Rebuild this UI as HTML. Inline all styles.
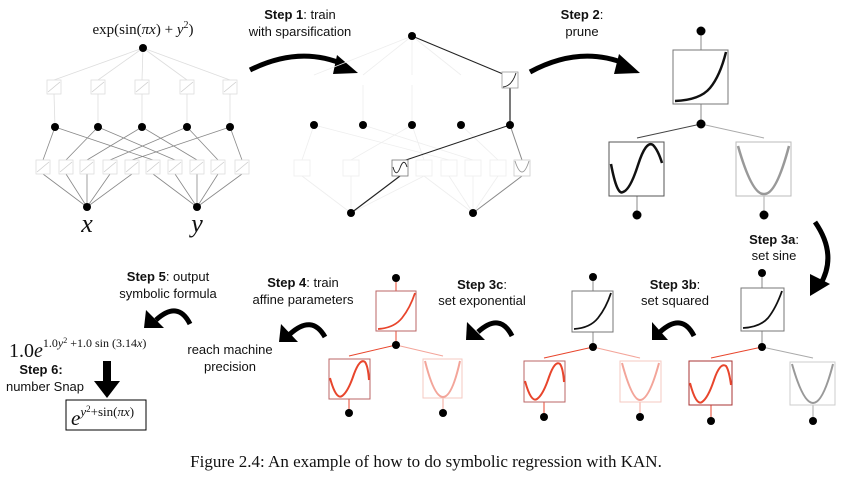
<!DOCTYPE html>
<html><head><meta charset="utf-8"><style>
body{margin:0;background:#fff;}
svg{display:block;}
.t{font-family:"Liberation Sans",sans-serif;font-size:13px;fill:#111;text-anchor:middle;}
.b{font-weight:bold;}
.s{font-family:"Liberation Serif",serif;fill:#111;}
</style></head><body>
<svg width="853" height="493" viewBox="0 0 853 493" xmlns="http://www.w3.org/2000/svg">
<defs>
<g id="ramp"><rect x="-7" y="-7" width="14" height="14" fill="#fff" stroke="#ddd" stroke-width="0.8"/><path d="M-6 5 L6 -5" stroke="#ccc" stroke-width="0.8"/></g>
</defs>

<!-- PANEL 1 -->
<text class="s" x="143" y="34" font-size="15" text-anchor="middle">exp(sin(<tspan font-style="italic">πx</tspan>) + <tspan font-style="italic">y</tspan><tspan font-size="10" dy="-6">2</tspan><tspan dy="6">)</tspan></text>
<g stroke="#ddd" stroke-width="0.8">
<line x1="143" y1="48" x2="54" y2="80"/><line x1="143" y1="48" x2="98" y2="80"/><line x1="143" y1="48" x2="142" y2="80"/><line x1="143" y1="48" x2="187" y2="80"/><line x1="143" y1="48" x2="230" y2="80"/>
<line x1="54" y1="94" x2="55" y2="127"/><line x1="98" y1="94" x2="98" y2="127"/><line x1="142" y1="94" x2="142" y2="127"/><line x1="187" y1="94" x2="187" y2="127"/><line x1="230" y1="94" x2="230" y2="127"/>
</g>
<g stroke="#888" stroke-width="0.8">
<line x1="55" y1="127" x2="43" y2="160"/><line x1="55" y1="127" x2="153" y2="160"/>
<line x1="98" y1="127" x2="66" y2="160"/><line x1="98" y1="127" x2="175" y2="160"/>
<line x1="142" y1="127" x2="87" y2="160"/><line x1="142" y1="127" x2="197" y2="160"/>
<line x1="187" y1="127" x2="110" y2="160"/><line x1="187" y1="127" x2="218" y2="160"/>
<line x1="230" y1="127" x2="132" y2="160"/><line x1="230" y1="127" x2="242" y2="160"/>
<line x1="87" y1="207" x2="43" y2="174"/><line x1="87" y1="207" x2="66" y2="174"/><line x1="87" y1="207" x2="87" y2="174"/><line x1="87" y1="207" x2="110" y2="174"/><line x1="87" y1="207" x2="132" y2="174"/>
<line x1="197" y1="207" x2="153" y2="174"/><line x1="197" y1="207" x2="175" y2="174"/><line x1="197" y1="207" x2="197" y2="174"/><line x1="197" y1="207" x2="218" y2="174"/><line x1="197" y1="207" x2="242" y2="174"/>
</g>
<use href="#ramp" x="54" y="87"/><use href="#ramp" x="98" y="87"/><use href="#ramp" x="142" y="87"/><use href="#ramp" x="187" y="87"/><use href="#ramp" x="230" y="87"/>
<use href="#ramp" x="43" y="167"/><use href="#ramp" x="66" y="167"/><use href="#ramp" x="87" y="167"/><use href="#ramp" x="110" y="167"/><use href="#ramp" x="132" y="167"/><use href="#ramp" x="153" y="167"/><use href="#ramp" x="175" y="167"/><use href="#ramp" x="197" y="167"/><use href="#ramp" x="218" y="167"/><use href="#ramp" x="242" y="167"/>
<g fill="#000"><circle cx="143" cy="48" r="4"/><circle cx="55" cy="127" r="4"/><circle cx="98" cy="127" r="4"/><circle cx="142" cy="127" r="4"/><circle cx="187" cy="127" r="4"/><circle cx="230" cy="127" r="4"/><circle cx="87" cy="207" r="4"/><circle cx="197" cy="207" r="4"/></g>
<text class="s" x="87" y="232" font-size="26" font-style="italic" text-anchor="middle">x</text>
<text class="s" x="197" y="232" font-size="26" font-style="italic" text-anchor="middle">y</text>

<!-- Step 1 -->
<text class="t" x="300" y="19"><tspan class="b">Step 1</tspan>: train</text>
<text class="t" x="300" y="36">with sparsification</text>
<path d="M250 70 Q300 45 345 65" stroke="#000" stroke-width="5" fill="none"/>
<polygon points="337,55 358,73 333,74" fill="#000"/>

<!-- PANEL 2 -->
<g stroke="#eee" stroke-width="0.8">
<line x1="412" y1="36" x2="314" y2="75"/><line x1="412" y1="36" x2="363" y2="75"/><line x1="412" y1="36" x2="412" y2="75"/><line x1="412" y1="36" x2="461" y2="75"/>
<line x1="363" y1="85" x2="363" y2="125"/><line x1="412" y1="85" x2="412" y2="125"/>
<line x1="314" y1="125" x2="302" y2="160"/><line x1="314" y1="125" x2="449" y2="160"/><line x1="363" y1="125" x2="473" y2="160"/><line x1="412" y1="125" x2="424" y2="160"/><line x1="412" y1="125" x2="351" y2="160"/><line x1="461" y1="125" x2="498" y2="160"/>
<line x1="351" y1="213" x2="302" y2="176"/><line x1="351" y1="213" x2="351" y2="176"/><line x1="351" y1="213" x2="424" y2="176"/>
<line x1="473" y1="213" x2="424" y2="176"/><line x1="473" y1="213" x2="449" y2="176"/><line x1="473" y1="213" x2="473" y2="176"/><line x1="473" y1="213" x2="498" y2="176"/>
</g>
<g fill="#fff" stroke="#eee" stroke-width="0.8">
<rect x="294" y="160" width="16" height="16"/><rect x="343" y="160" width="16" height="16"/><rect x="416" y="160" width="16" height="16"/><rect x="441" y="160" width="16" height="16"/><rect x="465" y="160" width="16" height="16"/><rect x="490" y="160" width="16" height="16"/>
</g>
<line x1="412" y1="36" x2="503" y2="74" stroke="#222" stroke-width="1"/>
<line x1="510" y1="88" x2="510" y2="125" stroke="#222" stroke-width="1.2"/>
<line x1="510" y1="125" x2="400" y2="162" stroke="#222" stroke-width="1"/>
<line x1="400" y1="176" x2="351" y2="213" stroke="#222" stroke-width="1.2"/>
<line x1="510" y1="125" x2="522" y2="160" stroke="#888" stroke-width="1"/>
<line x1="522" y1="176" x2="473" y2="213" stroke="#888" stroke-width="1"/>
<rect x="502" y="72" width="16" height="16" fill="#fff" stroke="#999" stroke-width="0.8"/>
<path d="M503 87 Q512 86 516 73" stroke="#222" fill="none" stroke-width="0.9"/>
<rect x="392" y="160" width="16" height="16" fill="#fff" stroke="#777" stroke-width="0.8"/>
<path d="M393 167 Q396 178 400 168 Q404 157 407 167" stroke="#222" fill="none" stroke-width="0.9"/>
<rect x="514" y="160" width="16" height="16" fill="#fff" stroke="#ccc" stroke-width="0.8"/>
<path d="M515 161 Q522 183 529 161" stroke="#999" fill="none" stroke-width="0.9"/>
<g fill="#000"><circle cx="412" cy="36" r="4"/><circle cx="314" cy="125" r="4"/><circle cx="363" cy="125" r="4"/><circle cx="412" cy="125" r="4"/><circle cx="461" cy="125" r="4"/><circle cx="510" cy="125" r="4"/><circle cx="351" cy="213" r="4"/><circle cx="473" cy="213" r="4"/></g>

<!-- Step 2 -->
<text class="t" x="582" y="19"><tspan class="b">Step 2</tspan>:</text>
<text class="t" x="582" y="36">prune</text>
<path d="M530 72 Q580 45 626 64" stroke="#000" stroke-width="5" fill="none"/>
<polygon points="619,54 640,73 614,74" fill="#000"/>

<!-- PANEL 3 -->
<line x1="701" y1="31" x2="701" y2="50" stroke="#888"/>
<line x1="701" y1="104" x2="701" y2="124" stroke="#888"/>
<line x1="701" y1="124" x2="637" y2="138" stroke="#444"/>
<line x1="701" y1="124" x2="764" y2="138" stroke="#aaa"/>
<line x1="637" y1="196" x2="637" y2="215" stroke="#888"/>
<line x1="764" y1="196" x2="764" y2="215" stroke="#aaa"/>
<rect x="673" y="50" width="55" height="54" fill="#fff" stroke="#777"/>
<path d="M675 101 Q700 100 710 88 Q720 76 726 52" stroke="#111" stroke-width="2.5" fill="none"/>
<rect x="609" y="142" width="55" height="54" fill="#fff" stroke="#555"/>
<path d="M611 164 Q617 196 623 192 Q630 190 638 165 Q646 140 653 145 Q658 150 662 163" stroke="#111" stroke-width="2.5" fill="none"/>
<rect x="736" y="142" width="55" height="54" fill="#fff" stroke="#bbb"/>
<path d="M738 146 Q752 195 764 194 Q776 195 789 146" stroke="#999" stroke-width="2.5" fill="none"/>
<g fill="#000"><circle cx="701" cy="31" r="4.5"/><circle cx="701" cy="124" r="4.5"/><circle cx="637" cy="215" r="4.5"/><circle cx="764" cy="215" r="4.5"/></g>

<!-- Step 3a -->
<text class="t" x="774" y="244"><tspan class="b">Step 3a</tspan>:</text>
<text class="t" x="774" y="260">set sine</text>
<path d="M815 222 Q838 255 820 285" stroke="#000" stroke-width="5" fill="none"/>
<polygon points="810,274 830,284 810,296" fill="#000"/>

<!-- PANEL 3a -->
<line x1="762" y1="273" x2="762" y2="288" stroke="#888"/>
<line x1="762" y1="331" x2="762" y2="347" stroke="#888"/>
<line x1="762" y1="347" x2="711" y2="358" stroke="#e8452c"/>
<line x1="762" y1="347" x2="813" y2="358" stroke="#aaa"/>
<line x1="711" y1="405" x2="711" y2="421" stroke="#e8452c"/>
<line x1="813" y1="405" x2="813" y2="421" stroke="#aaa"/>
<rect x="741" y="288" width="43" height="43" fill="#fff" stroke="#777"/>
<path d="M743 328 Q760 327 768 318 Q776 308 782 291" stroke="#111" stroke-width="1.8" fill="none"/>
<rect x="689" y="361" width="43" height="44" fill="#fff" stroke="#a33"/>
<path d="M690 383 Q696 406 702 402 Q708 398 714 380 Q720 362 726 366 Q729 370 731 385" stroke="#e8452c" stroke-width="2" fill="none"/>
<rect x="790" y="362" width="45" height="43" fill="#fff" stroke="#ccc"/>
<path d="M792 364 Q803 403 813 403 Q823 403 833 364" stroke="#999" stroke-width="2" fill="none"/>
<g fill="#000"><circle cx="762" cy="273" r="4"/><circle cx="762" cy="347" r="4"/><circle cx="711" cy="421" r="4"/><circle cx="813" cy="421" r="4"/></g>

<!-- Step 3b -->
<text class="t" x="675" y="289"><tspan class="b">Step 3b</tspan>:</text>
<text class="t" x="675" y="305">set squared</text>
<path d="M694 336 Q682 312 660 332" stroke="#000" stroke-width="5" fill="none"/>
<polygon points="652,322 668,340 652,340" fill="#000"/>

<!-- PANEL 3b -->
<line x1="593" y1="277" x2="593" y2="291" stroke="#888"/>
<line x1="593" y1="332" x2="593" y2="347" stroke="#888"/>
<line x1="593" y1="347" x2="544" y2="358" stroke="#e8452c"/>
<line x1="593" y1="347" x2="640" y2="358" stroke="#f3a59a"/>
<line x1="544" y1="402" x2="544" y2="417" stroke="#e8452c"/>
<line x1="640" y1="402" x2="640" y2="417" stroke="#f3a59a"/>
<rect x="572" y="291" width="41" height="41" fill="#fff" stroke="#777"/>
<path d="M574 329 Q590 328 598 318 Q606 308 611 293" stroke="#111" stroke-width="1.8" fill="none"/>
<rect x="524" y="361" width="41" height="41" fill="#fff" stroke="#b66"/>
<path d="M525 381 Q531 403 537 399 Q543 395 549 377 Q555 360 560 364 Q563 368 564 382" stroke="#e8452c" stroke-width="2" fill="none"/>
<rect x="620" y="361" width="41" height="41" fill="#fff" stroke="#f5c9c2"/>
<path d="M622 363 Q632 400 640 400 Q649 400 659 363" stroke="#f3a59a" stroke-width="2" fill="none"/>
<g fill="#000"><circle cx="593" cy="277" r="4"/><circle cx="593" cy="347" r="4"/><circle cx="544" cy="417" r="4"/><circle cx="640" cy="417" r="4"/></g>

<!-- Step 3c -->
<text class="t" x="482" y="289"><tspan class="b">Step 3c</tspan>:</text>
<text class="t" x="482" y="305">set exponential</text>
<path d="M512 336 Q500 312 478 332" stroke="#000" stroke-width="5" fill="none"/>
<polygon points="467,322 485,340 466,340" fill="#000"/>

<!-- PANEL 3c -->
<line x1="396" y1="278" x2="396" y2="291" stroke="#e8452c"/>
<line x1="396" y1="331" x2="396" y2="345" stroke="#e8452c"/>
<line x1="396" y1="345" x2="349" y2="356" stroke="#e8452c"/>
<line x1="396" y1="345" x2="443" y2="356" stroke="#f3a59a"/>
<line x1="349" y1="399" x2="349" y2="413" stroke="#e8452c"/>
<line x1="443" y1="398" x2="443" y2="413" stroke="#f3a59a"/>
<rect x="376" y="291" width="40" height="40" fill="#fff" stroke="#b66"/>
<path d="M378 329 Q394 328 402 318 Q410 308 415 293" stroke="#e8452c" stroke-width="1.8" fill="none"/>
<rect x="329" y="359" width="41" height="40" fill="#fff" stroke="#b66"/>
<path d="M330 378 Q336 400 342 396 Q348 392 354 374 Q360 358 365 362 Q368 366 369 380" stroke="#e8452c" stroke-width="2" fill="none"/>
<rect x="423" y="359" width="39" height="39" fill="#fff" stroke="#f5c9c2"/>
<path d="M425 361 Q434 397 443 397 Q452 397 460 361" stroke="#f3a59a" stroke-width="2" fill="none"/>
<g fill="#000"><circle cx="396" cy="278" r="4"/><circle cx="396" cy="345" r="4"/><circle cx="349" cy="413" r="4"/><circle cx="443" cy="413" r="4"/></g>

<!-- Step 4 -->
<text class="t" x="303" y="287"><tspan class="b">Step 4</tspan>: train</text>
<text class="t" x="303" y="304">affine parameters</text>
<path d="M325 337 Q312 314 290 334" stroke="#000" stroke-width="5" fill="none"/>
<polygon points="281,324 298,342 279,342" fill="#000"/>
<text class="t" x="230" y="354">reach machine</text>
<text class="t" x="230" y="371">precision</text>

<!-- Step 5 -->
<text class="t" x="168" y="281"><tspan class="b">Step 5</tspan>: output</text>
<text class="t" x="168" y="298">symbolic formula</text>
<path d="M190 324 Q178 300 156 320" stroke="#000" stroke-width="5" fill="none"/>
<polygon points="146,310 164,328 144,328" fill="#000"/>
<text class="s" x="9" y="357" font-size="20" fill="#333">1.0<tspan font-style="italic">e</tspan><tspan font-size="12" dy="-10">1.0<tspan font-style="italic">y</tspan><tspan font-size="8" dy="-4">2</tspan><tspan dy="4"> +1.0 sin (3.14</tspan><tspan font-style="italic">x</tspan>)</tspan></text>

<!-- Step 6 -->
<text class="t" x="41" y="374" font-weight="bold">Step 6:</text>
<text class="t" x="45" y="391">number Snap</text>
<rect x="103" y="361" width="8" height="22" fill="#000"/>
<polygon points="94,381 120,381 107,398" fill="#000"/>
<rect x="66" y="400" width="80" height="30" fill="#fff" stroke="#000" stroke-width="1"/>
<text class="s" x="71" y="425" font-size="21"><tspan font-style="italic">e</tspan><tspan font-size="13" dy="-9"><tspan font-style="italic">y</tspan><tspan font-size="9" dy="-4">2</tspan><tspan dy="4">+sin(</tspan><tspan font-style="italic">πx</tspan>)</tspan></text>

<!-- caption -->
<text class="s" x="426" y="467" font-size="17" text-anchor="middle">Figure 2.4: An example of how to do symbolic regression with KAN.</text>
</svg>
</body></html>
